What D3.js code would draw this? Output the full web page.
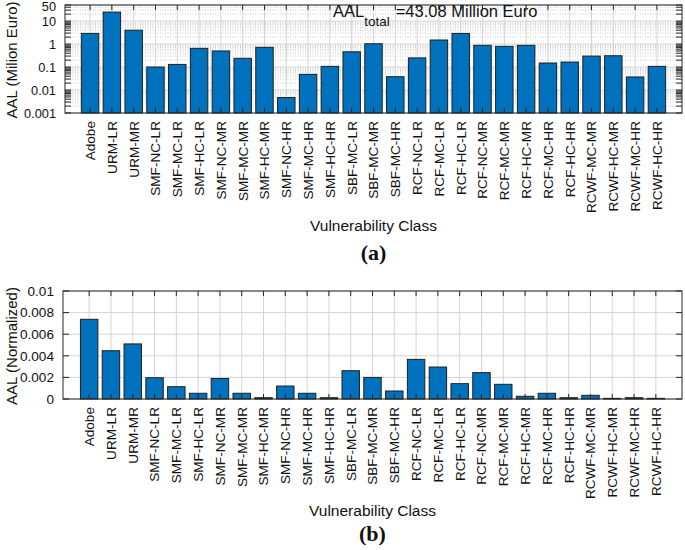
<!DOCTYPE html>
<html>
<head>
<meta charset="utf-8">
<script src="https://cdn.jsdelivr.net/npm/d3@7"></script>
<style>
  body { margin: 0; background: #fff; }
  svg { display: block; font-family: "Liberation Sans", Arial, Helvetica, sans-serif; }
</style>
</head>
<body>
<svg id="chart" width="685" height="550"></svg>
<script>
const categories = ["Adobe","URM-LR","URM-MR","SMF-NC-LR","SMF-MC-LR","SMF-HC-LR","SMF-NC-MR","SMF-MC-MR","SMF-HC-MR","SMF-NC-HR","SMF-MC-HR","SMF-HC-HR","SBF-MC-LR","SBF-MC-MR","SBF-MC-HR","RCF-NC-LR","RCF-MC-LR","RCF-HC-LR","RCF-NC-MR","RCF-MC-MR","RCF-HC-MR","RCF-MC-HR","RCF-HC-HR","RCWF-MC-MR","RCWF-HC-MR","RCWF-MC-HR","RCWF-HC-HR"];

// (a) AAL in million Euro (log scale)
const aalMillion = [2.9, 24.6, 4.0, 0.10, 0.13, 0.65, 0.50, 0.24, 0.72, 0.0047, 0.048, 0.107, 0.46, 1.03, 0.038, 0.25, 1.5, 2.9, 0.88, 0.79, 0.88, 0.15, 0.165, 0.30, 0.31, 0.037, 0.107];
// (b) AAL normalized
const aalNormalized = [0.00738, 0.00447, 0.0051, 0.00197, 0.00114, 0.00053, 0.0019, 0.00053, 0.00012, 0.0012, 0.00053, 0.00012, 0.00262, 0.0020, 0.00074, 0.00367, 0.00296, 0.00142, 0.00244, 0.00136, 0.00025, 0.00053, 0.00012, 0.00034, 0.00006, 0.00012, 0.00006];

const logTicks = [0.001, 0.01, 0.1, 1, 10, 50];
const logTickLabels = ["0.001", "0.01", "0.1", "1", "10", "50"];
const linTicks = [0, 0.002, 0.004, 0.006, 0.008, 0.01];
const linTickLabels = ["0", "0.002", "0.004", "0.006", "0.008", "0.01"];

const totalText = "=43.08 Million Euro";

const svg = d3.select("#chart");
const BAR = "#0072BD", EDGE = "#1f1f1f", AX = "#262626", GRID = "#d4d4d4";

function panel(opt) {
  const g = svg.append("g");
  const x = d3.scaleLinear().domain([-opt.padL, categories.length - 1 + opt.padR]).range([opt.left, opt.right]);
  const y = opt.y;
  const yBottom = opt.bottom, yTop = opt.top;

  // minor grid
  if (opt.minor) {
    g.append("g").selectAll("line").data(opt.minor).join("line")
      .attr("x1", opt.left).attr("x2", opt.right)
      .attr("y1", d => y(d)).attr("y2", d => y(d))
      .attr("stroke", "#bdbdbd").attr("stroke-width", 0.8).attr("stroke-dasharray", "1,1.5");
  }
  // major y grid
  g.append("g").selectAll("line").data(opt.ticks).join("line")
    .attr("x1", opt.left).attr("x2", opt.right)
    .attr("y1", d => y(d)).attr("y2", d => y(d))
    .attr("stroke", GRID).attr("stroke-width", 1);
  // x grid
  g.append("g").selectAll("line").data(categories).join("line")
    .attr("x1", (d, i) => x(i)).attr("x2", (d, i) => x(i))
    .attr("y1", yTop).attr("y2", yBottom)
    .attr("stroke", GRID).attr("stroke-width", 1);

  // bars
  const bw = (x(1) - x(0)) * 0.8;
  g.append("g").selectAll("rect").data(opt.values).join("rect")
    .attr("x", (d, i) => x(i) - bw / 2)
    .attr("width", bw)
    .attr("y", d => y(d))
    .attr("height", d => yBottom - y(d))
    .attr("fill", BAR).attr("stroke", EDGE).attr("stroke-width", 1);

  // ticks (inward) top & bottom
  const tl = 5;
  g.append("g").selectAll("line").data(categories).join("line")
    .attr("x1", (d, i) => x(i)).attr("x2", (d, i) => x(i))
    .attr("y1", yBottom).attr("y2", yBottom - tl)
    .attr("stroke", AX).attr("stroke-width", 1);
  g.append("g").selectAll("line").data(categories).join("line")
    .attr("x1", (d, i) => x(i)).attr("x2", (d, i) => x(i))
    .attr("y1", yTop).attr("y2", yTop + tl)
    .attr("stroke", AX).attr("stroke-width", 1);
  // y ticks left & right
  const yt = opt.ticks.concat(opt.minor || []);
  g.append("g").selectAll("line").data(yt).join("line")
    .attr("x1", opt.left).attr("x2", opt.left + 6)
    .attr("y1", d => y(d)).attr("y2", d => y(d))
    .attr("stroke", AX).attr("stroke-width", 1);
  g.append("g").selectAll("line").data(yt).join("line")
    .attr("x1", opt.right).attr("x2", opt.right - 6)
    .attr("y1", d => y(d)).attr("y2", d => y(d))
    .attr("stroke", AX).attr("stroke-width", 1);

  // box
  g.append("rect").attr("x", opt.left).attr("y", yTop)
    .attr("width", opt.right - opt.left).attr("height", yBottom - yTop)
    .attr("fill", "none").attr("stroke", AX).attr("stroke-width", 1);

  // y tick labels
  g.append("g").selectAll("text").data(opt.ticks).join("text")
    .attr("x", opt.left - 9).attr("y", d => Math.max(y(d), 6)).attr("dy", "0.36em")
    .attr("text-anchor", "end").attr("font-size", opt.yFont).attr("fill", "#111")
    .text((d, i) => opt.tickLabels[i]);

  // x tick labels rotated
  g.append("g").selectAll("text").data(categories).join("text")
    .attr("transform", (d, i) => `translate(${x(i)},${yBottom + 8}) rotate(-90)`)
    .attr("dy", "0.36em")
    .attr("text-anchor", "end").attr("font-size", 13.6).attr("fill", "#111")
    .text(d => d);

  // y title
  g.append("text")
    .attr("transform", `translate(17,${(yTop + yBottom) / 2 + 1}) rotate(-90)`)
    .attr("text-anchor", "middle").attr("font-size", 15).attr("fill", "#111")
    .text(opt.yTitle);

  // x title
  const cx = (opt.left + opt.right) / 2;
  g.append("text").attr("x", cx).attr("y", opt.xTitleY)
    .attr("text-anchor", "middle").attr("font-size", 15.5).attr("fill", "#111")
    .text("Vulnerability Class");

  // panel label
  g.append("text").attr("x", cx).attr("y", opt.labelY)
    .attr("text-anchor", "middle").attr("font-size", 22).attr("font-weight", "bold")
    .attr("font-family", "'Liberation Serif', 'Times New Roman', serif").attr("fill", "#111")
    .text(opt.label);
  return g;
}

// minor log ticks
const minorLog = [];
[0.001, 0.01, 0.1, 1, 10].forEach(dec => {
  for (let k = 2; k <= 9; k++) { const v = dec * k; if (v < 50) minorLog.push(v); }
});

const gA = panel({
  left: 65, right: 682, top: 5, bottom: 113, padL: 1.15, padR: 1.15,
  y: d3.scaleLog().domain([0.001, 50]).range([113, 5]),
  ticks: logTicks, tickLabels: logTickLabels, minor: minorLog,
  values: aalMillion, yFont: 12.8,
  yTitle: "AAL (Milion Euro)", xTitleY: 231, label: "(a)", labelY: 260
});

// annotation
const ann = gA.append("text").attr("x", 333).attr("y", 17).attr("font-size", 16.5).attr("fill", "#111");
ann.append("tspan").text("AAL");
ann.append("tspan").attr("dy", 8.5).attr("font-size", 13.5).text("total");
ann.append("tspan").attr("dy", -8.5).attr("dx", 6).text(totalText);

panel({
  left: 63, right: 682, top: 291, bottom: 399, padL: 1.2, padR: 1.2,
  y: d3.scaleLinear().domain([0, 0.01]).range([399, 291]),
  ticks: linTicks, tickLabels: linTickLabels, minor: null,
  values: aalNormalized, yFont: 13.6,
  yTitle: "AAL (Normalized)", xTitleY: 516, label: "(b)", labelY: 541
});
</script>
</body>
</html>
